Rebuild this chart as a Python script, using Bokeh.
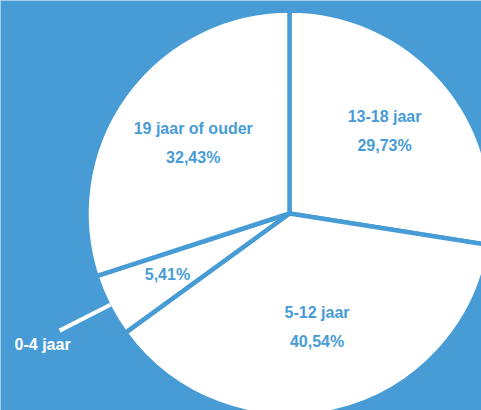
import numpy as np
from bokeh.plotting import figure
from bokeh.models import ColumnDataSource, Range1d
from bokeh.embed import file_html
from bokeh.resources import INLINE
from bokeh.core.properties import value

# ---- data ----
categories = ["13-18 jaar", "5-12 jaar", "0-4 jaar", "19 jaar of ouder"]
counts = [11, 15, 2, 12]
pct_labels = ["29,73%", "40,54%", "5,41%", "32,43%"]
name_inside = [True, True, False, True]
label_radius = [125, 118, 137, 119]

# ---- style ----
BG = "#489cd6"
W, H = 481, 410
cx, cy = 289.0, 197.0
R = 203.0
FONT = "Liberation Sans"
LINE_GAP = 14.5

total = float(sum(counts))
cum = np.cumsum([0] + counts) / total * 2 * np.pi  # clockwise from 12 o'clock
th1, th2 = cum[:-1], cum[1:]
start = np.pi / 2 - th2
end = np.pi / 2 - th1
mid = (th1 + th2) / 2

p = figure(width=W, height=H, x_range=Range1d(0, W), y_range=Range1d(0, H),
           output_backend="svg", toolbar_location=None, min_border=0,
           x_axis_location=None, y_axis_location=None,
           background_fill_color=BG, border_fill_color=BG, outline_line_color=None)
p.grid.visible = False

src = ColumnDataSource(dict(start=start, end=end, cat=categories))
p.wedge(x=cx, y=cy, radius=R, start_angle="start", end_angle="end", source=src,
        fill_color="white", line_color=BG, line_width=4.5, direction="anticlock")

# inside labels
tx, ty, tt = [], [], []
for i, cat in enumerate(categories):
    lx = cx + label_radius[i] * np.sin(mid[i])
    ly = cy + label_radius[i] * np.cos(mid[i]) + 1
    if name_inside[i]:
        tx += [lx, lx]
        ty += [ly + LINE_GAP, ly - LINE_GAP]
        tt += [cat, pct_labels[i]]
    else:
        tx.append(lx)
        ty.append(ly)
        tt.append(pct_labels[i])
p.text(x=tx, y=ty, text=tt, text_align="center", text_baseline="middle",
       text_font=value(FONT), text_font_style="bold", text_font_size="16px",
       text_color=BG)

# outside label with leader line
for i, cat in enumerate(categories):
    if name_inside[i]:
        continue
    r0, r1 = R - 2, 258
    x0, y0 = cx + r0 * np.sin(mid[i]), cy + r0 * np.cos(mid[i])
    x1, y1 = cx + r1 * np.sin(mid[i]), cy + r1 * np.cos(mid[i])
    p.line(x=[x0, x1], y=[y0, y1], line_color="white", line_width=4)
    p.text(x=[x1 - 17], y=[y1 - 14], text=[cat], text_align="center",
           text_baseline="middle", text_font=value(FONT), text_font_style="bold",
           text_font_size="16px", text_color="white")

html = file_html(p, INLINE)
open("out.html", "w").write(html)
